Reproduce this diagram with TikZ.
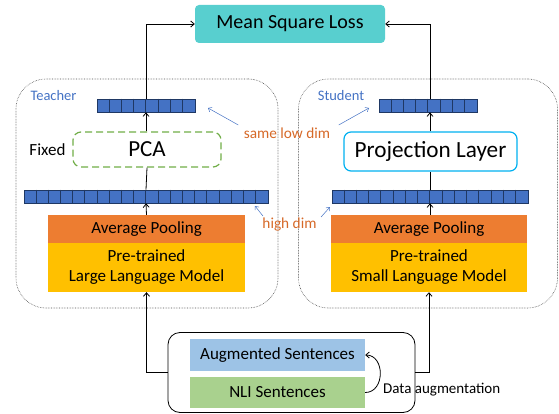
\documentclass[tikz,border=0pt]{standalone}
\usepackage{fontspec}
\setmainfont{Carlito}
\usetikzlibrary{arrows.meta,calc}
\definecolor{teal1}{RGB}{88,207,207}
\definecolor{orng}{RGB}{237,125,49}
\definecolor{yell}{RGB}{255,192,0}
\definecolor{cellblue}{RGB}{68,114,196}
\definecolor{celledge}{RGB}{31,56,100}
\definecolor{grn}{RGB}{112,173,71}
\definecolor{projblue}{RGB}{0,176,240}
\definecolor{augblue}{RGB}{157,195,230}
\definecolor{nligreen}{RGB}{169,209,142}
\definecolor{annor}{RGB}{214,105,40}
\definecolor{lblblue}{RGB}{68,114,196}
\tikzset{
  fs/.style={font=\fontsize{#1}{#1}\selectfont},
  arr/.style={line width=0.8pt,-{Straight Barb[length=3.5pt,width=6pt]}},
  plain/.style={line width=0.8pt},
  cont/.style={draw=black!70,densely dotted,line width=0.6pt,rounded corners=30pt,inner sep=0pt},
  vecbox/.style={draw=celledge,fill=cellblue,line width=0.7pt,inner sep=0pt,minimum height=13pt},
  pool/.style={fill=orng,inner sep=0pt,minimum width=197pt,minimum height=28pt,fs=17},
  llm/.style={fill=yell,inner sep=0pt,minimum width=197pt,minimum height=49pt,align=center,fs=17},
  lbl/.style={text=lblblue,fs=14.5},
  ann/.style={text=annor,fs=15.3},
  annarr/.style={draw=lblblue,line width=0.5pt,-{Straight Barb[length=3pt,width=5pt]}},
}
\newcommand{\cellsep}[3]{% node name, number of cells, cell width
  \foreach \i in {1,...,#2}{\draw[celledge,line width=0.7pt] ($(#1.north west)+(\i*#3,0)$) -- ($(#1.south west)+(\i*#3,0)$);}}
\begin{document}
\begin{tikzpicture}[x=1pt,y=-1pt]
\useasboundingbox (0,0) rectangle (559,414);
% containers
\node[cont,minimum width=262pt,minimum height=229pt] (tbox) at (147,193.5) {};
\node[cont,minimum width=259pt,minimum height=229pt] (sbox) at (428,193.5) {};
\node[lbl] (tlab) at (53.5,96) {Teacher};
\node[lbl] (slab) at (341,96) {Student};
% loss
\node[fill=teal1,rounded corners=4pt,minimum width=190pt,minimum height=38pt,inner sep=0pt,fs=20] (msl) at (290,24) {Mean Square Loss};
% vectors
\node[vecbox,minimum width=98pt] (tlow) at (146,105.5) {};
\cellsep{tlow}{7}{12.25}
\node[vecbox,minimum width=98pt] (slow) at (428,105.5) {};
\cellsep{slow}{7}{12.25}
\node[vecbox,minimum width=244pt] (thigh) at (146,196.5) {};
\cellsep{thigh}{19}{12.2}
\node[vecbox,minimum width=196pt] (shigh) at (430,196.5) {};
\cellsep{shigh}{15}{12.25}
% PCA / projection
\node[draw=grn,dashed,dash pattern=on 7pt off 4pt,line width=1.2pt,rounded corners=8pt,minimum width=148pt,minimum height=35pt,inner sep=0pt,fs=23] (pca) at (147,149.5) {PCA};
\node[fs=17] (fixed) at (47.5,150) {Fixed};
\node[draw=projblue,line width=1.2pt,rounded corners=7pt,minimum width=173pt,minimum height=39pt,inner sep=0pt,fs=23.2] (proj) at (430.5,151.5) {Projection Layer};
% pooling and models
\node[pool] (tpool) at (146.5,229) {Average Pooling};
\node[llm] (tllm) at (146.5,267.5) {Pre-trained\\[3pt]Large Language Model};
\node[pool,minimum width=196pt] (spool) at (429,229) {Average Pooling};
\node[llm,minimum width=196pt] (sllm) at (429,267.5) {Pre-trained\\[3pt]Small Language Model};
% input
\node[draw=black,line width=0.8pt,rounded corners=12pt,minimum width=247pt,minimum height=80pt,inner sep=0pt] (input) at (291.5,372.5) {};
\node[fill=augblue,minimum width=175pt,minimum height=32pt,inner sep=0pt,fs=17] (aug) at (277.5,355) {Augmented Sentences};
\node[fill=nligreen,minimum width=175pt,minimum height=31pt,inner sep=0pt,fs=17] (nli) at (277.5,392.5) {NLI Sentences};
\node[anchor=west,fs=15,inner sep=0pt] (da) at (383,390) {Data augmentation};
\draw[arr] (nli.east) .. controls ++(20,0) and ++(20,0) .. (aug.east);
% connectors
\draw[arr] (input.west) -| (tllm.south);
\draw[arr] (input.east) -| (sllm.south);
\draw[arr] (tpool.north) -- (thigh.south);
\draw[arr] (spool.north -| shigh.south) -- (shigh.south);
\draw[plain] (thigh.north) -- (pca.south);
\draw[plain] (shigh.north) -- (shigh.north |- proj.south);
\draw[arr] (pca.north -| tlow.south) -- (tlow.south);
\draw[arr] (proj.north -| shigh.north) -- (shigh.north |- tlow.south);
\draw[arr] (tlow.north) |- (msl.west);
\draw[arr] (slow.north -| shigh.north) |- (msl.east);
% annotations
\node[ann] (same) at (287,133) {same low dim};
\node[ann] (high) at (289.5,225) {high dim};
\coordinate (a1) at (208,108);
\coordinate (a2) at (369,108);
\coordinate (a3) at (255,206);
\coordinate (a4) at (330,207);
\draw[annarr] ($(same.west)+(-2,-8)$) -- (a1);
\draw[annarr] ($(same.east)+(5,-8)$) -- (a2);
\draw[annarr] ($(high.west)+(4,-9)$) -- (a3);
\draw[annarr] ($(high.east)+(1,-8)$) -- (a4);
\end{tikzpicture}
\end{document}
